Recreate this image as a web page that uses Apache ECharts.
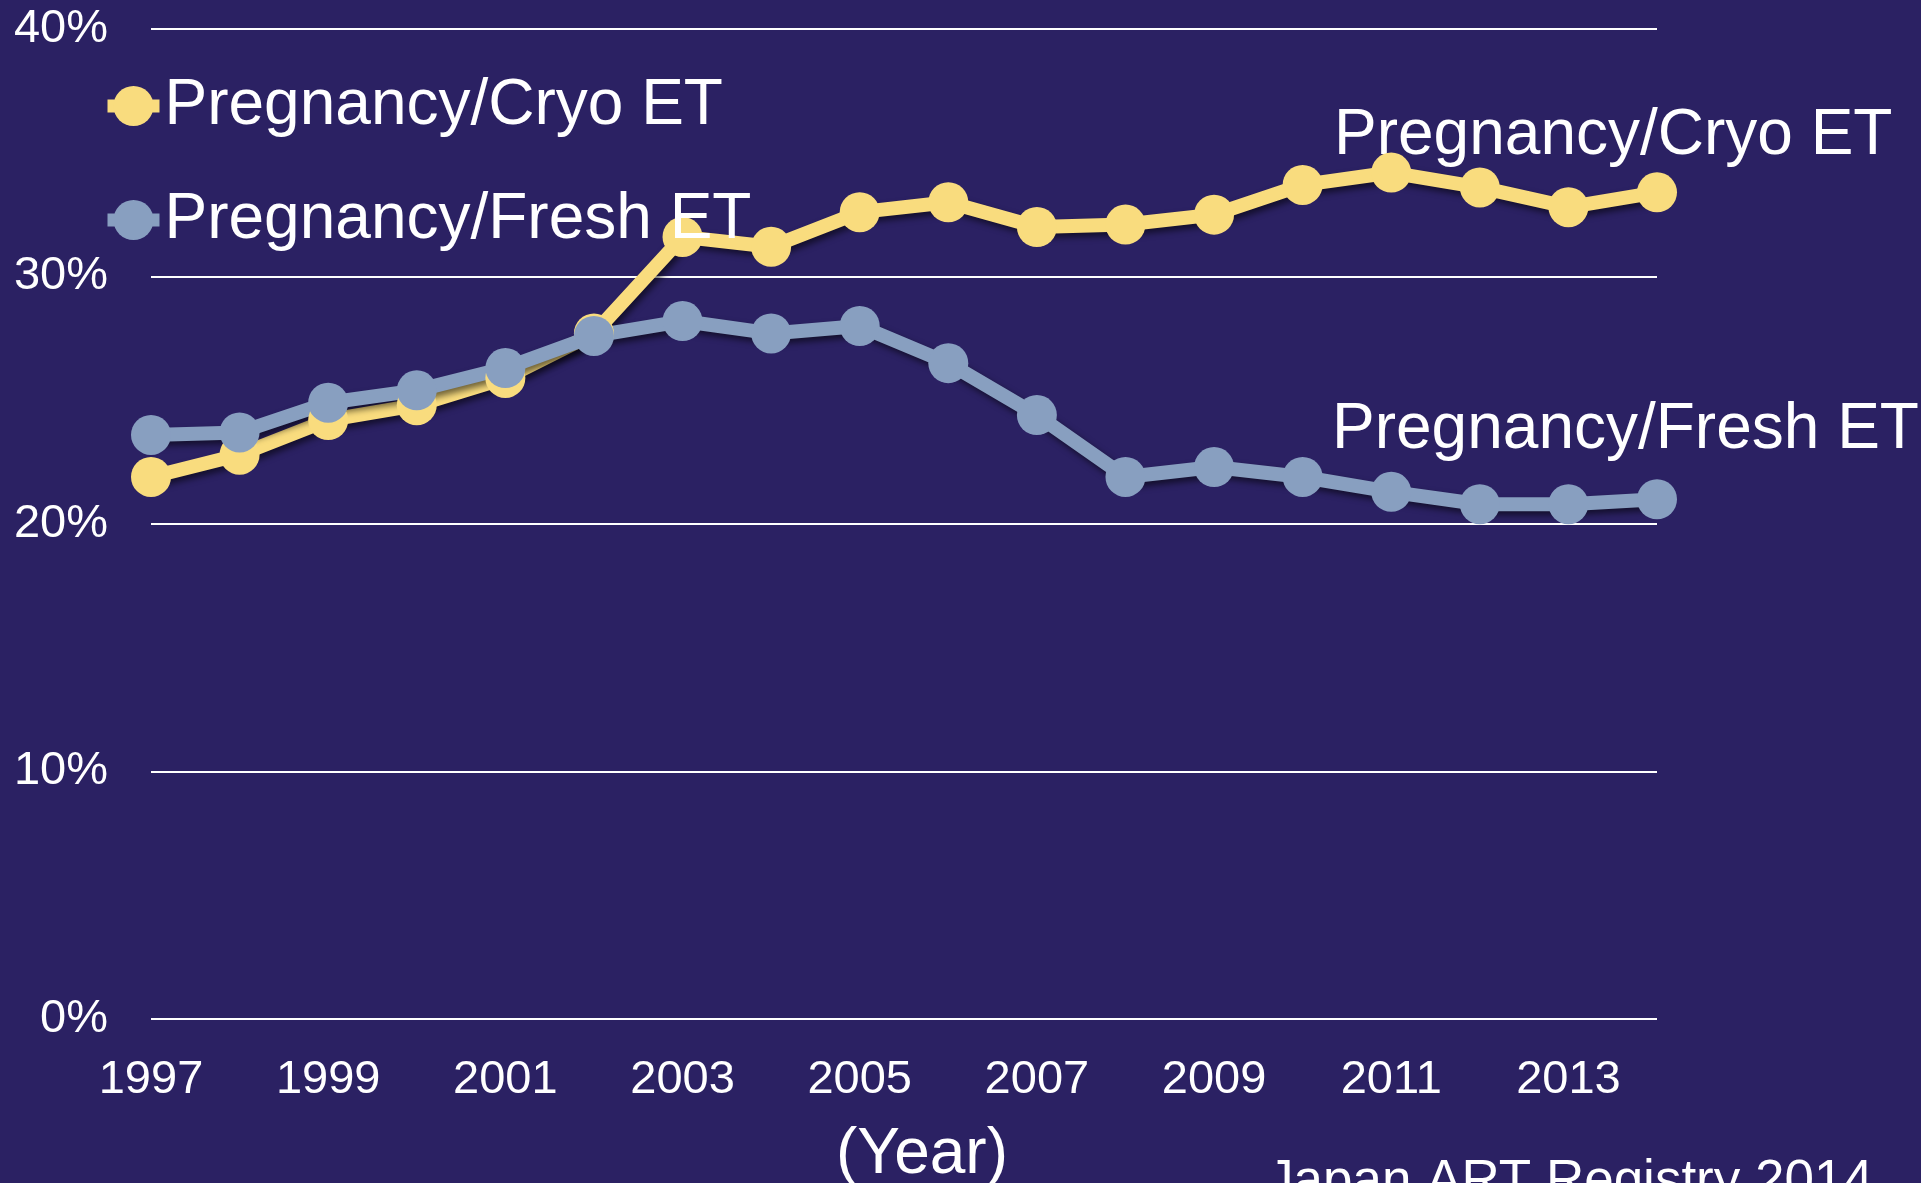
<!DOCTYPE html>
<html>
<head>
<meta charset="utf-8">
<script src="https://cdn.jsdelivr.net/npm/echarts@6/dist/echarts.min.js"></script>
<style>
  html, body { margin: 0; padding: 0; background: #2b2163; }
  #chart { width: 1921px; height: 1183px; }
</style>
</head>
<body>
<div id="chart"></div>
<script>
const years = ['1997', '1998', '1999', '2000', '2001', '2002', '2003', '2004', '2005',
  '2006', '2007', '2008', '2009', '2010', '2011', '2012', '2013', '2014'];
const cryoET = [21.9, 22.8, 24.2, 24.8, 25.9, 27.7, 31.6, 31.2, 32.6,
  33.0, 32.0, 32.1, 32.5, 33.7, 34.2, 33.6, 32.8, 33.4];
const freshET = [23.6, 23.7, 24.9, 25.4, 26.3, 27.6, 28.2, 27.7, 28.0,
  26.5, 24.4, 21.9, 22.3, 21.9, 21.3, 20.8, 20.8, 21.0];
const yTicks = [0, 10, 20, 30, 40];

const font = 'Liberation Sans, Arial, sans-serif';
const yellow = '#f9dc7e';
const blue = '#889fc0';

const chart = echarts.init(document.getElementById('chart'));

const lineSeries = (name, data, color) => ({
  name,
  type: 'line',
  data,
  symbol: 'circle',
  symbolSize: 40,
  itemStyle: { color },
  lineStyle: {
    color,
    width: 14,
    shadowColor: 'rgba(0,0,0,0.55)',
    shadowBlur: 6,
    shadowOffsetX: 3,
    shadowOffsetY: 4
  },
  animation: false
});

chart.setOption({
  backgroundColor: '#2b2163',
  textStyle: { fontFamily: font },
  grid: { left: 151, right: 264, top: 29, bottom: 164 },
  legend: {
    orient: 'vertical',
    left: 96,
    top: 69,
    itemWidth: 52,
    itemHeight: 50,
    itemGap: 50,
    lineStyle: { width: 13, shadowBlur: 0, shadowOffsetX: 0, shadowOffsetY: 0 },
    textStyle: { color: '#ffffff', fontSize: 64, lineHeight: 64, fontFamily: font },
    data: ['Pregnancy/Cryo ET', 'Pregnancy/Fresh ET']
  },
  xAxis: {
    type: 'category',
    data: years,
    boundaryGap: false,
    axisLine: { show: false },
    axisTick: { show: false },
    axisLabel: { interval: 1, color: '#ffffff', fontSize: 47, margin: 38, fontFamily: font }
  },
  yAxis: {
    type: 'value',
    min: yTicks[0],
    max: yTicks[yTicks.length - 1],
    interval: 10,
    axisLine: { show: false },
    axisTick: { show: false },
    axisLabel: { formatter: '{value}%', color: '#ffffff', fontSize: 47, margin: 43, fontFamily: font },
    splitLine: { lineStyle: { color: '#ffffff', width: 2 } }
  },
  graphic: [
    { type: 'text', left: 1334, top: 104,
      style: { text: 'Pregnancy/Cryo ET', fill: '#ffffff', fontSize: 64, fontFamily: font } },
    { type: 'text', left: 1332, top: 398,
      style: { text: 'Pregnancy/Fresh ET', fill: '#ffffff', fontSize: 64, fontFamily: font } },
    { type: 'text', left: 836, top: 1123,
      style: { text: '(Year)', fill: '#ffffff', fontSize: 64, fontFamily: font } },
    { type: 'text', left: 1267, top: 1156,
      style: { text: 'Japan ART Registry 2014', fill: '#ffffff', fontSize: 53, fontFamily: font } }
  ],
  series: [
    lineSeries('Pregnancy/Cryo ET', cryoET, yellow),
    lineSeries('Pregnancy/Fresh ET', freshET, blue)
  ]
});
</script>
</body>
</html>
